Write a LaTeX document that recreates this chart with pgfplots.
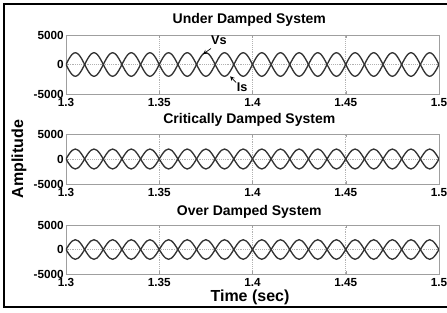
\documentclass[border=0pt]{standalone}
\usepackage{pgfplots}
\pgfplotsset{compat=1.18}
\usepackage{pgfplotstable}
\usepackage{fontspec}
\setmainfont{Liberation Sans}

\pgfplotstableread{
t vs is
1.30000 0 0
1.30167 -1000 1000
1.30333 -1732 1732
1.30500 -2000 2000
1.30667 -1732 1732
1.30833 -1000 1000
1.31000 0 0
1.31167 1000 -1000
1.31333 1732 -1732
1.31500 2000 -2000
1.31667 1732 -1732
1.31833 1000 -1000
1.32000 0 0
1.32167 -1000 1000
1.32333 -1732 1732
1.32500 -2000 2000
1.32667 -1732 1732
1.32833 -1000 1000
1.33000 0 0
1.33167 1000 -1000
1.33333 1732 -1732
1.33500 2000 -2000
1.33667 1732 -1732
1.33833 1000 -1000
1.34000 0 0
1.34167 -1000 1000
1.34333 -1732 1732
1.34500 -2000 2000
1.34667 -1732 1732
1.34833 -1000 1000
1.35000 0 0
1.35167 1000 -1000
1.35333 1732 -1732
1.35500 2000 -2000
1.35667 1732 -1732
1.35833 1000 -1000
1.36000 0 0
1.36167 -1000 1000
1.36333 -1732 1732
1.36500 -2000 2000
1.36667 -1732 1732
1.36833 -1000 1000
1.37000 0 0
1.37167 1000 -1000
1.37333 1732 -1732
1.37500 2000 -2000
1.37667 1732 -1732
1.37833 1000 -1000
1.38000 0 0
1.38167 -1000 1000
1.38333 -1732 1732
1.38500 -2000 2000
1.38667 -1732 1732
1.38833 -1000 1000
1.39000 0 0
1.39167 1000 -1000
1.39333 1732 -1732
1.39500 2000 -2000
1.39667 1732 -1732
1.39833 1000 -1000
1.40000 0 0
1.40167 -1000 1000
1.40333 -1732 1732
1.40500 -2000 2000
1.40667 -1732 1732
1.40833 -1000 1000
1.41000 0 0
1.41167 1000 -1000
1.41333 1732 -1732
1.41500 2000 -2000
1.41667 1732 -1732
1.41833 1000 -1000
1.42000 0 0
1.42167 -1000 1000
1.42333 -1732 1732
1.42500 -2000 2000
1.42667 -1732 1732
1.42833 -1000 1000
1.43000 0 0
1.43167 1000 -1000
1.43333 1732 -1732
1.43500 2000 -2000
1.43667 1732 -1732
1.43833 1000 -1000
1.44000 0 0
1.44167 -1000 1000
1.44333 -1732 1732
1.44500 -2000 2000
1.44667 -1732 1732
1.44833 -1000 1000
1.45000 0 0
1.45167 1000 -1000
1.45333 1732 -1732
1.45500 2000 -2000
1.45667 1732 -1732
1.45833 1000 -1000
1.46000 0 0
1.46167 -1000 1000
1.46333 -1732 1732
1.46500 -2000 2000
1.46667 -1732 1732
1.46833 -1000 1000
1.47000 0 0
1.47167 1000 -1000
1.47333 1732 -1732
1.47500 2000 -2000
1.47667 1732 -1732
1.47833 1000 -1000
1.48000 0 0
1.48167 -1000 1000
1.48333 -1732 1732
1.48500 -2000 2000
1.48667 -1732 1732
1.48833 -1000 1000
1.49000 0 0
1.49167 1000 -1000
1.49333 1732 -1732
1.49500 2000 -2000
1.49667 1732 -1732
1.49833 1000 -1000
1.50000 0 0
}\wave

\pgfplotsset{
 curve/.style={black!80, line width=1pt, smooth, mark=none},
 panel/.style={
  scale only axis, width=279.75pt, anchor=north west,
  xmin=1.3, xmax=1.5, ymin=-5000, ymax=5000,
  xtick={1.3,1.35,1.4,1.45,1.5}, xticklabels={1.3,1.35,1.4,1.45,1.5},
  ytick={-5000,0,5000}, yticklabels={-5000,0,5000},
  grid=major, major grid style={densely dotted, gray!60, line width=0.5pt},
  axis line style={gray!75, line width=0.6pt},
  tick style={gray!75}, major tick length=2pt, tick align=inside,
  ticklabel style={font=\bfseries\fontsize{8.8}{10}\selectfont},
  xticklabel style={inner sep=1pt, yshift=-2.3pt},
  yticklabel style={inner sep=1.5pt},
  /pgf/number format/assume math mode=true,
  clip=true,
}}

\begin{document}
\begin{tikzpicture}
\path[use as bounding box] (0,0) rectangle (335.25pt,-234pt);
\draw[line width=1.5pt] (335.5pt,-3pt) -- (3pt,-3pt) -- (3pt,-230.5pt) -- (335.5pt,-230.5pt);

\begin{axis}[panel, at={(49.5pt,-26.25pt)}, height=44.25pt]
\addplot[curve] table[x=t,y=vs] {\wave};
\addplot[curve] table[x=t,y=is] {\wave};
\draw[-stealth, black, line width=0.5pt] (axis cs:1.3777,2712) -- (axis cs:1.3735,1750);
\draw[-stealth, black, line width=0.5pt] (axis cs:1.3912,-3050) -- (axis cs:1.3880,-2000);
\node[font=\bfseries\fontsize{9.5}{10}\selectfont] at (axis cs:1.3820,4150) {Vs};
\node[font=\bfseries\fontsize{9.5}{10}\selectfont] at (axis cs:1.3945,-3900) {Is};
\end{axis}

\begin{axis}[panel, at={(49.5pt,-100.5pt)}, height=37.5pt]
\addplot[curve] table[x=t,y=vs] {\wave};
\addplot[curve] table[x=t,y=is] {\wave};
\end{axis}

\begin{axis}[panel, at={(49.5pt,-168.75pt)}, height=36.75pt]
\addplot[curve] table[x=t,y=vs] {\wave};
\addplot[curve] table[x=t,y=is] {\wave};
\end{axis}

\node[font=\bfseries\fontsize{10.5}{12}\selectfont] at (187pt,-15pt) {Under Damped System};
\node[font=\bfseries\fontsize{10.5}{12}\selectfont] at (187pt,-90pt) {Critically Damped System};
\node[font=\bfseries\fontsize{10.5}{12}\selectfont] at (187pt,-159pt) {Over Damped System};
\node[font=\bfseries\fontsize{12}{14}\selectfont, rotate=90] at (14.25pt,-119.25pt) {Amplitude};
\node[font=\bfseries\fontsize{12}{14}\selectfont] at (187.5pt,-222.75pt) {Time (sec)};
\end{tikzpicture}
\end{document}
